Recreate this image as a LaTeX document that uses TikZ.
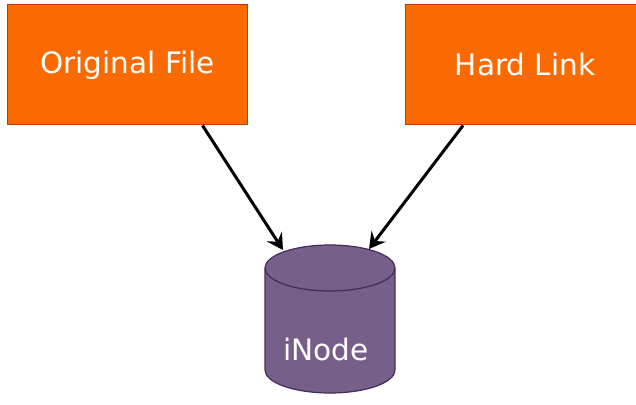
\documentclass[tikz,border=0pt]{standalone}
\usepackage{fontspec}
\setmainfont{DejaVu Sans}
\usetikzlibrary{arrows.meta}
\definecolor{boxfill}{RGB}{250,106,0}
\definecolor{boxline}{RGB}{199,53,0}
\definecolor{cylfill}{RGB}{118,96,138}
\definecolor{cylline}{RGB}{67,45,87}
\tikzset{
  filebox/.style={rectangle, fill=boxfill, draw=boxline, line width=1pt,
    minimum width=240pt, minimum height=120pt, text=white,
    font=\fontsize{29.5}{34}\selectfont},
  link/.style={line width=3pt, -{Stealth[length=16pt,width=18pt,inset=6pt]}},
  cyl/.style={fill=cylfill, draw=cylline, line width=1.2pt}
}
\begin{document}
\begin{tikzpicture}[x=1pt,y=1pt]
\useasboundingbox (0,0) rectangle (636,404);
\node[filebox] (orig) at (127.5,339) {Original File};
\node[filebox] (hard) at (525,339) {Hard Link};
% cylinder body
\path[cyl] (265,136) -- (265,34) arc (180:360:65 and 23) -- (395,136) arc (0:180:65 and 23) -- cycle;
\draw[cylline, line width=1.2pt] (265,136) arc (180:360:65 and 23);
\node[text=white, font=\fontsize{29.5}{34}\selectfont] (inode) at (326,54) {iNode};
\coordinate (t1) at (283,154);
\coordinate (t2) at (369,155);
\draw[link] ([xshift=75pt]orig.south) -- (t1);
\draw[link] ([xshift=-62pt]hard.south) -- (t2);
\end{tikzpicture}
\end{document}
